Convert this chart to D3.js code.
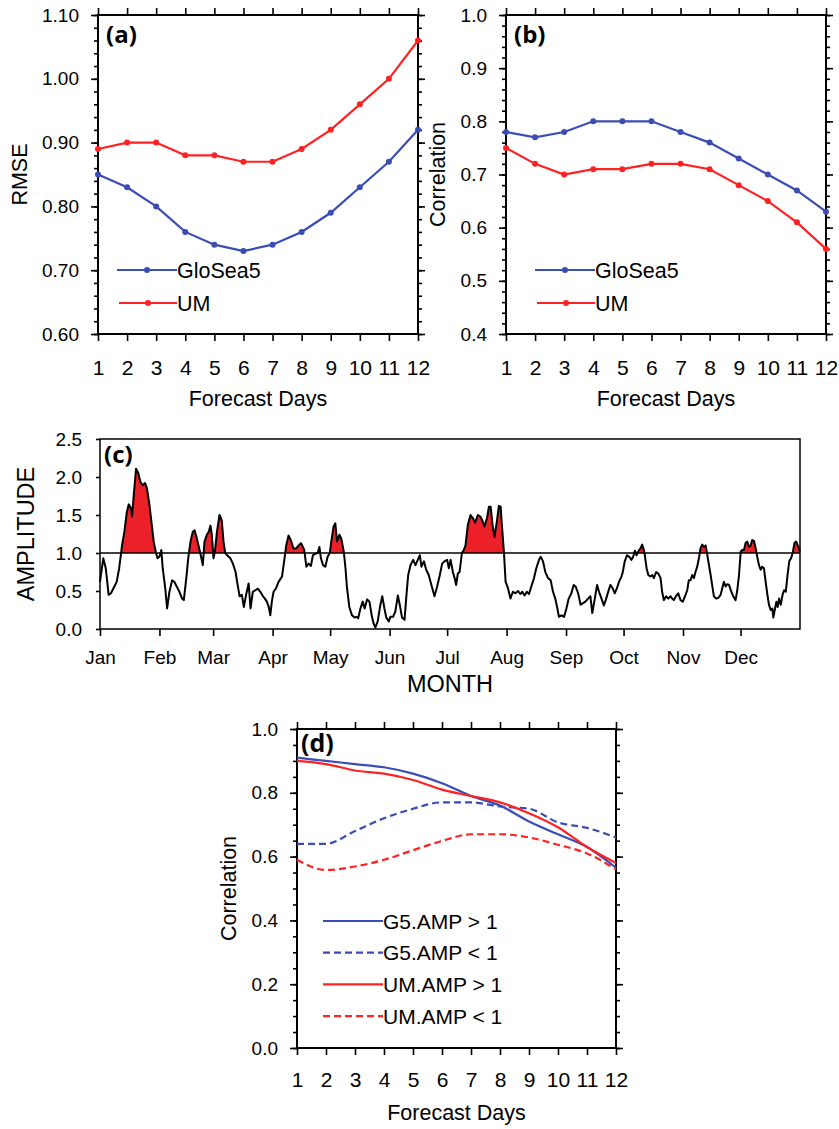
<!DOCTYPE html>
<html><head><meta charset="utf-8">
<script src="https://cdn.jsdelivr.net/npm/d3@7"></script>
<style>
body{margin:0;background:#fff}
svg{display:block}
text{font-family:"Liberation Sans",Arial,Helvetica,sans-serif;fill:#000}
.plab{font-family:"Open Sans","Noto Sans",sans-serif;font-weight:bold}
</style>
</head><body>
<svg id="c" width="839" height="1129"></svg>
<script>
// ---------------- DATA ----------------
const forecastDays = [1,2,3,4,5,6,7,8,9,10,11,12];
const dayTickLabels = ["1","2","3","4","5","6","7","8","9","10","11","12"];

// (a) RMSE
const rmseGloSea5 = [0.85,0.83,0.80,0.76,0.74,0.73,0.74,0.76,0.79,0.83,0.87,0.92];
const rmseUM      = [0.89,0.90,0.90,0.88,0.88,0.87,0.87,0.89,0.92,0.96,1.00,1.06];
const rmseTicks   = [0.60,0.70,0.80,0.90,1.00,1.10];

// (b) Correlation
const corrGloSea5 = [0.78,0.77,0.78,0.80,0.80,0.80,0.78,0.76,0.73,0.70,0.67,0.63];
const corrUM      = [0.75,0.72,0.70,0.71,0.71,0.72,0.72,0.71,0.68,0.65,0.61,0.56];
const corrTicksB  = [0.4,0.5,0.6,0.7,0.8,0.9,1.0];

// (c) Amplitude (day of year, value)
const ampDay = [0,1.7,3,4.5,5.7,7.5,8.7,10,11.5,12.7,14,15,16.2,16.7,17.6,18.8,20,21,22.3,23.5,24.5,25.8,27,28,29.2,30,31,32,32.7,34,35,36.2,37.6,38.8,40,41.4,42.8,43.7,45,46,47.2,48.4,49.3,50.5,51.9,52.7,53.6,54.5,55.7,56.7,57.6,58.3,59.2,60,61,62.3,63.5,64.4,65.3,66.7,68,69.3,70.7,71.5,72.8,74,75,76.2,77.5,78.5,79.7,81,82.3,83.6,85,86,87,88,88.8,89.6,90.5,91.9,93.1,94.9,96,97.1,98.3,99.5,100.9,102.3,103.6,104.8,105.8,106.5,107.6,108.8,110,111,112.3,113.5,114.4,115.2,116.3,117.5,118.7,119.8,120.6,121.8,122.7,123.6,124.8,125.8,127.1,128,128.8,130,131.4,132.7,133.7,134.6,135.8,137,138,139.3,140.5,141.8,142.7,143.6,144.8,146.2,147.2,148.3,149.3,150.6,151.4,152.8,154,155.3,156.3,157.5,158.8,159.8,160.7,161.9,163.3,164.5,165.7,166.8,167.6,168.9,170.1,171.4,172.8,174.4,175.8,177.2,178.4,179.6,181,181.9,182.8,184,184.9,185.7,186.6,187.5,188.7,189.7,190.6,191.8,193.2,194.4,195.6,197,198.3,199.3,200.5,201.8,202.8,203.7,204.7,205.7,206.9,208,208.9,209.7,210.6,211.5,212.7,214,215.3,216.6,218,219.2,220.2,221.4,222.6,223.7,224.9,226.3,227.5,228.9,229.8,231,232.2,233.6,235,236.2,237.4,238.5,239.3,240.6,242,243.2,244.4,245.8,247,248,249.3,250.6,251.9,253.1,254.5,255.7,256.7,258,259.2,260.2,261.5,262.7,263.7,265,266.1,267.2,268.4,269.6,270.6,271.9,272.6,273.6,274.8,276,277.1,278,278.9,279.8,280.6,281.8,282.7,283.6,284.1,285,285.9,287,288,288.8,290,291.1,292.3,293.1,294,295.2,296.3,297.5,298.4,299.2,300.5,301.5,302.7,303.9,305,306.2,307,307.9,308.8,309.7,310.5,311.4,312.3,313.1,314,314.9,315.8,316.5,317.2,318.4,319.3,320.1,321.3,322.4,323.6,324.5,325.3,326.2,327.1,328,329.2,330.2,331.4,332.3,333.2,334.1,334.9,335.8,336.6,337.5,338.4,339.3,340.1,341,341.9,342.7,343.6,344.5,345.3,346.2,347.1,347.9,348.8,349.7,350.6,351.1,352,352.7,353.4,354.1,355,355.9,356.7,357.6,358.5,359.4,360.3,361.2,362.1,363,363.8,364.7,365];
const ampVal = [0.62,0.93,0.80,0.45,0.47,0.56,0.62,0.80,1.10,1.28,1.54,1.64,1.59,1.48,1.76,2.11,2.05,1.94,1.89,1.92,1.85,1.63,1.37,1.15,1.00,0.93,0.95,1.04,0.80,0.54,0.27,0.49,0.64,0.62,0.56,0.49,0.40,0.38,0.67,0.93,1.15,1.28,1.30,1.19,1.04,0.95,0.84,1.15,1.24,1.28,1.36,1.24,0.93,1.04,1.28,1.50,1.43,1.15,1.00,0.96,0.93,0.86,0.75,0.62,0.43,0.45,0.29,0.45,0.60,0.27,0.49,0.51,0.53,0.49,0.43,0.40,0.36,0.29,0.18,0.36,0.49,0.54,0.62,0.69,0.89,1.10,1.23,1.17,1.06,1.06,1.10,1.13,1.08,1.04,0.82,0.86,0.83,0.97,0.99,1.00,1.08,0.93,0.84,0.82,0.95,1.00,1.15,1.35,1.39,1.15,1.24,1.19,1.02,0.80,0.54,0.29,0.18,0.15,0.16,0.14,0.27,0.36,0.27,0.39,0.36,0.16,0.07,0.02,0.10,0.32,0.43,0.27,0.15,0.10,0.16,0.16,0.23,0.44,0.32,0.15,0.12,0.45,0.71,0.84,0.91,0.84,0.91,0.97,0.82,0.89,0.78,0.71,0.58,0.43,0.56,0.71,0.86,0.89,0.91,0.80,0.91,0.75,0.67,0.58,0.73,0.75,1.00,1.04,1.10,1.37,1.50,1.46,1.40,1.50,1.48,1.43,1.35,1.46,1.61,1.61,1.37,1.21,1.41,1.62,1.61,1.32,1.02,0.62,0.54,0.40,0.49,0.47,0.50,0.46,0.49,0.44,0.49,0.46,0.56,0.67,0.80,0.91,0.95,0.89,0.75,0.67,0.64,0.49,0.40,0.27,0.16,0.18,0.16,0.27,0.40,0.47,0.58,0.56,0.47,0.32,0.34,0.36,0.40,0.43,0.21,0.40,0.58,0.49,0.40,0.31,0.38,0.49,0.58,0.54,0.47,0.54,0.62,0.69,0.75,0.89,0.97,0.95,0.91,0.95,1.03,0.97,1.02,1.06,1.11,1.04,0.97,0.80,0.71,0.69,0.71,0.67,0.75,0.73,0.67,0.49,0.38,0.43,0.40,0.43,0.40,0.38,0.44,0.47,0.38,0.36,0.43,0.51,0.64,0.64,0.71,0.67,0.75,0.82,0.93,1.06,1.11,1.08,1.10,1.00,0.89,0.71,0.56,0.43,0.40,0.41,0.45,0.54,0.62,0.56,0.59,0.58,0.49,0.43,0.38,0.51,0.71,1.02,1.04,1.04,1.13,1.15,1.08,1.10,1.17,1.16,1.06,0.95,0.84,0.78,0.82,0.80,0.62,0.47,0.32,0.25,0.27,0.15,0.27,0.36,0.29,0.40,0.32,0.45,0.51,0.49,0.71,0.89,0.93,1.00,1.13,1.15,1.10,1.04,1.02];
const monthLabels = ["Jan","Feb","Mar","Apr","May","Jun","Jul","Aug","Sep","Oct","Nov","Dec"];
const monthStartDay = [0,31,59,90,120,151,181,212,243,273,304,334];
const ampTicks = [0,0.5,1.0,1.5,2.0,2.5];
const ampThreshold = 1.0;

// (d) Correlation by amplitude
const g5AmpHi = [0.91,0.90,0.89,0.88,0.86,0.83,0.79,0.76,0.71,0.67,0.63,0.565];
const g5AmpLo = [0.64,0.64,0.68,0.72,0.75,0.77,0.77,0.757,0.75,0.707,0.69,0.66];
const umAmpHi = [0.90,0.89,0.87,0.86,0.84,0.81,0.79,0.77,0.736,0.692,0.63,0.58];
const umAmpLo = [0.59,0.558,0.569,0.59,0.62,0.649,0.67,0.67,0.66,0.637,0.61,0.56];
const corrTicksD = [0.0,0.2,0.4,0.6,0.8,1.0];

// ---------------- DRAW ----------------
const svg = d3.select("#c");
const BLUE = "#3a4db4", RED = "#ff2222", FILL = "#ec2028";

function styleAxis(sel, fs) {
  sel.select(".domain").remove();
  sel.selectAll(".tick line").attr("stroke","#000").attr("stroke-width",1.6);
  sel.selectAll(".tick text").style("font-size", fs + "px").attr("fill","#000");
}

function linePanel(cfg) {
  const x = d3.scaleLinear().domain([1,12]).range([cfg.x0, cfg.x1]);
  const y = d3.scaleLinear().domain(cfg.yDomain).range([cfg.y1, cfg.y0]);
  const g = svg.append("g");
  const minorVals = d3.range(0, Math.round((cfg.yDomain[1]-cfg.yDomain[0])/cfg.minor)+1)
      .map(i => cfg.yDomain[0] + i*cfg.minor);

  g.append("g").attr("transform",`translate(${cfg.x0},0)`)
    .call(d3.axisLeft(y).tickValues(minorVals).tickSize(4).tickFormat(""))
    .call(s => styleAxis(s, 10));
  g.append("g").attr("transform",`translate(${cfg.x1},0)`)
    .call(d3.axisRight(y).tickValues(minorVals).tickSize(4).tickFormat(""))
    .call(s => styleAxis(s, 10));
  g.append("g").attr("transform",`translate(${cfg.x0},0)`)
    .call(d3.axisLeft(y).tickValues(cfg.yTicks).tickSize(7).tickPadding(12).tickFormat(d3.format(cfg.fmt)))
    .call(s => styleAxis(s, 19));
  g.append("g").attr("transform",`translate(${cfg.x1},0)`)
    .call(d3.axisRight(y).tickValues(cfg.yTicks).tickSize(7).tickFormat(""))
    .call(s => styleAxis(s, 19));
  g.append("g").attr("transform",`translate(0,${cfg.y1})`)
    .call(d3.axisBottom(x).tickValues(forecastDays).tickSize(7).tickPadding(cfg.xPad)
      .tickFormat((d,i) => dayTickLabels[i]))
    .call(s => styleAxis(s, 21));
  g.append("g").attr("transform",`translate(0,${cfg.y0})`)
    .call(d3.axisTop(x).tickValues(forecastDays).tickSize(7).tickFormat(""))
    .call(s => styleAxis(s, 21));

  g.append("rect").attr("x",cfg.x0).attr("y",cfg.y0)
    .attr("width",cfg.x1-cfg.x0).attr("height",cfg.y1-cfg.y0)
    .attr("fill","none").attr("stroke","#000").attr("stroke-width",2);

  cfg.series.forEach(s => {
    const line = d3.line().x((d,i)=>x(forecastDays[i])).y(d=>y(d));
    if (s.curve) line.curve(s.curve);
    g.append("path").datum(s.values).attr("d",line)
      .attr("fill","none").attr("stroke",s.color).attr("stroke-width",2.2)
      .attr("stroke-dasharray", s.dash || null);
    if (s.markers) {
      g.selectAll(null).data(s.values).join("circle")
        .attr("cx",(d,i)=>x(forecastDays[i])).attr("cy",d=>y(d)).attr("r",3)
        .attr("fill",s.color);
    }
  });

  cfg.series.forEach((s,i) => {
    const ly = cfg.legY + i*cfg.legDy;
    const lx0 = cfg.legX0 + (s.legOff||0), lx1 = cfg.legX1;
    g.append("line").attr("x1",lx0).attr("x2",lx1).attr("y1",ly).attr("y2",ly)
      .attr("stroke",s.color).attr("stroke-width",2.2).attr("stroke-dasharray", s.dash || null);
    if (s.markers) g.append("circle").attr("cx",(lx0+lx1)/2).attr("cy",ly).attr("r",3).attr("fill",s.color);
    g.append("text").attr("x",lx1).attr("y",ly).attr("dy","0.36em")
      .style("font-size",cfg.legFs+"px").text(s.name);
  });

  g.append("text").attr("x",(cfg.x0+cfg.x1)/2).attr("y",cfg.y1+72)
    .attr("text-anchor","middle").style("font-size","21.5px").text("Forecast Days");
  g.append("text").attr("transform",`translate(${cfg.yTitleX},${(cfg.y0+cfg.y1)/2}) rotate(-90)`)
    .attr("text-anchor","middle").attr("dy","0.36em").style("font-size","21.5px").text(cfg.yTitle);
  g.append("text").attr("class","plab").attr("x",cfg.labX).attr("y",cfg.labY)
    .style("font-size",cfg.labFs+"px").text(cfg.label);
}

linePanel({
  x0:98, x1:418, y0:15, y1:334, yDomain:[0.6,1.1], yTicks:rmseTicks, minor:0.02, fmt:".2f",
  xPad:19, yTitle:"RMSE", yTitleX:19, label:"(a)", labX:106, labY:43, labFs:24,
  legX0:117, legX1:177, legY:270, legDy:33, legFs:21.5,
  series:[
    {name:"GloSea5", values:rmseGloSea5, color:BLUE, markers:true},
    {name:"UM", values:rmseUM, color:RED, markers:true, legOff:2}
  ]
});

linePanel({
  x0:506, x1:826, y0:15, y1:334, yDomain:[0.4,1.0], yTicks:corrTicksB, minor:0.02, fmt:".1f",
  xPad:19, yTitle:"Correlation", yTitleX:437, label:"(b)", labX:514, labY:43, labFs:24,
  legX0:535, legX1:595, legY:270, legDy:33, legFs:21.5,
  series:[
    {name:"GloSea5", values:corrGloSea5, color:BLUE, markers:true},
    {name:"UM", values:corrUM, color:RED, markers:true, legOff:2}
  ]
});

linePanel({
  x0:297, x1:616, y0:729, y1:1048, yDomain:[0,1.0], yTicks:corrTicksD, minor:0.05, fmt:".1f",
  xPad:17, yTitle:"Correlation", yTitleX:228, label:"(d)", labX:301, labY:752, labFs:25,
  legX0:323, legX1:383, legY:921, legDy:31.7, legFs:21,
  series:[
    {name:"G5.AMP > 1", values:g5AmpHi, color:BLUE, curve:d3.curveMonotoneX},
    {name:"G5.AMP < 1", values:g5AmpLo, color:BLUE, dash:"7,4", curve:d3.curveMonotoneX},
    {name:"UM.AMP > 1", values:umAmpHi, color:RED, curve:d3.curveMonotoneX},
    {name:"UM.AMP < 1", values:umAmpLo, color:RED, dash:"7,4", curve:d3.curveMonotoneX}
  ]
});

// ---------- panel (c) ----------
(function(){
  const X0=100, X1=800, Y0=439, Y1=629;
  const x = d3.scaleLinear().domain([0,365]).range([X0,X1]);
  const y = d3.scaleLinear().domain([0,2.5]).range([Y1,Y0]);
  const g = svg.append("g");
  const pts = ampDay.map((d,i)=>[d, ampVal[i]]);

  g.append("clipPath").attr("id","above").append("rect")
    .attr("x",X0).attr("y",Y0).attr("width",X1-X0).attr("height",y(ampThreshold)-Y0);
  g.append("path").datum(pts)
    .attr("d", d3.area().x(d=>x(d[0])).y0(y(ampThreshold)).y1(d=>y(d[1])))
    .attr("fill",FILL).attr("clip-path","url(#above)");

  g.append("line").attr("x1",X0).attr("x2",X1).attr("y1",y(ampThreshold)).attr("y2",y(ampThreshold))
    .attr("stroke","#000").attr("stroke-width",1.5);
  g.append("path").datum(pts)
    .attr("d", d3.line().x(d=>x(d[0])).y(d=>y(d[1])))
    .attr("fill","none").attr("stroke","#000").attr("stroke-width",2).attr("stroke-linejoin","round");

  g.append("g").attr("transform",`translate(${X0},0)`)
    .call(d3.axisLeft(y).tickValues(ampTicks).tickSize(4).tickPadding(14).tickFormat(d3.format(".1f")))
    .call(s => styleAxis(s, 19));
  g.append("g").attr("transform",`translate(0,${Y1})`)
    .call(d3.axisBottom(x).tickValues(monthStartDay).tickSize(7).tickPadding(15)
      .tickFormat((d,i)=>monthLabels[i]))
    .call(s => styleAxis(s, 19));
  g.append("rect").attr("x",X0).attr("y",Y0).attr("width",X1-X0).attr("height",Y1-Y0)
    .attr("fill","none").attr("stroke","#000").attr("stroke-width",1.5);

  g.append("text").attr("x",(X0+X1)/2).attr("y",692).attr("text-anchor","middle")
    .style("font-size","23.5px").text("MONTH");
  g.append("text").attr("transform",`translate(26,${(Y0+Y1)/2}) rotate(-90)`)
    .attr("text-anchor","middle").attr("dy","0.36em").style("font-size","23.5px").text("AMPLITUDE");
  g.append("text").attr("class","plab").attr("x",104).attr("y",463).style("font-size","24px").text("(c)");
})();
</script>
</body></html>
